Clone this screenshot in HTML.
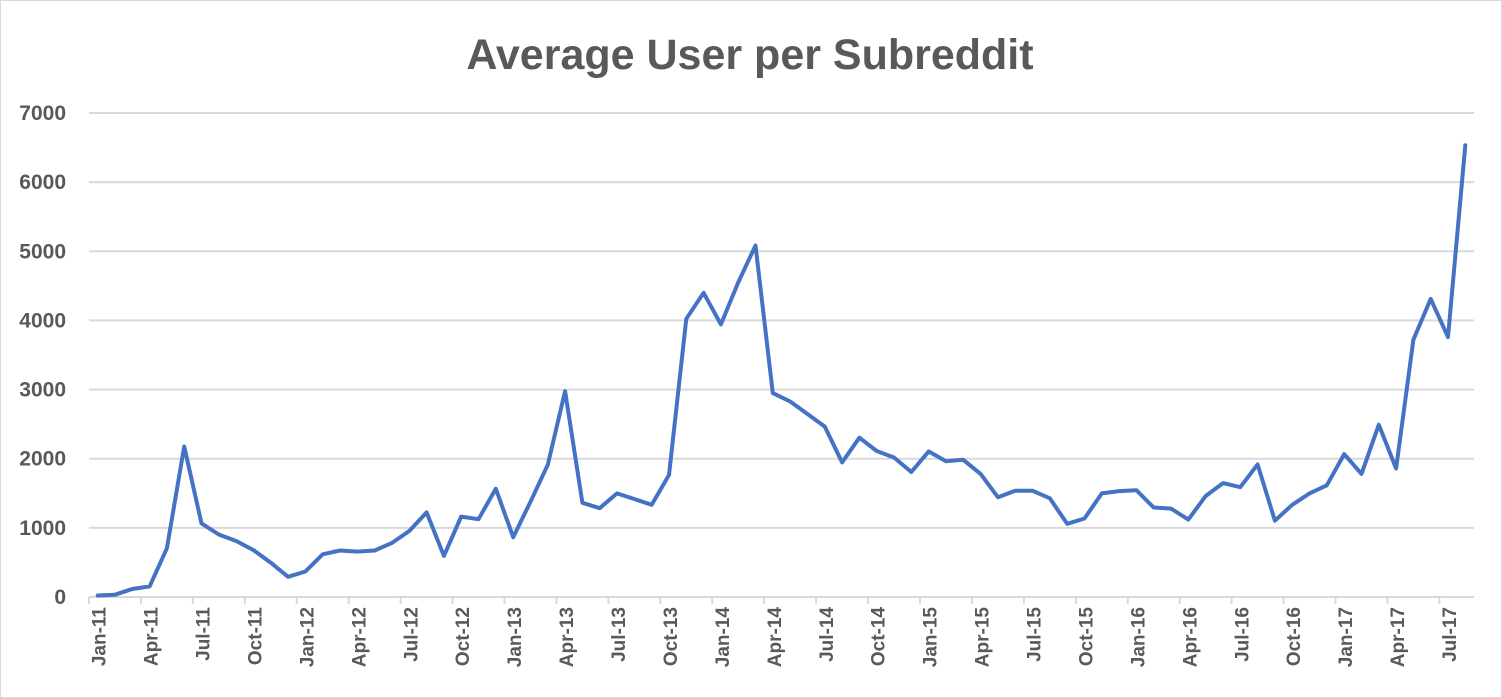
<!DOCTYPE html>
<html><head><meta charset="utf-8"><style>
html,body{margin:0;padding:0;background:#fff;}
svg{display:block;font-family:"Liberation Sans",sans-serif;}
</style></head><body>
<svg id="chart" width="1502" height="698">
<rect x="0.5" y="0.5" width="1501" height="697" fill="#fff" stroke="#d9d9d9"/>
<text x="750" y="69" text-anchor="middle" font-size="43" font-weight="bold" fill="#595959">Average User per Subreddit</text>
<g id="grid"></g><g id="yticks"></g><g id="xticks"></g><g id="series"></g>
</svg>
<script>
const monthNames=["Jan","Feb","Mar","Apr","May","Jun","Jul","Aug","Sep","Oct","Nov","Dec"];
const values=[22,33,116,154,705,2177,1064,904,810,678,496,292,369,617,672,656,672,783,954,1224,595,1163,1125,1566,865,1378,1913,2977,
1362,1284,1499,1417,1334,1764,4024,4399,3942,4548,5083,2949,2828,2646,2464,1946,2304,2111,2018,1808,2106,1962,1985,1781,1444,1538,1538,
1428,1058,1136,1499,1532,1544,1295,1279,1119,1461,1648,1588,1918,1103,1334,1499,1615,2067,1781,2492,1858,3721,4311,3760,6533];
const yTicks=[0,1000,2000,3000,4000,5000,6000,7000];
const categories=values.map((v,i)=>monthNames[i%12]+"-"+String(11+Math.floor(i/12)));
const NS="http://www.w3.org/2000/svg";
const L=89,R=1474,T=113,B=597,YMAX=7000;
const step=(R-L)/categories.length;
const xs=i=>L+step*(i+0.5);
const ys=v=>B-(v/YMAX)*(B-T);
function mk(tag,attrs,parent){const e=document.createElementNS(NS,tag);for(const k in attrs)e.setAttribute(k,attrs[k]);parent.appendChild(e);return e;}
const grid=document.getElementById('grid'),yt=document.getElementById('yticks'),xt=document.getElementById('xticks'),se=document.getElementById('series');
yTicks.forEach(t=>{
 const ln=mk('line',{x1:L,x2:R,y1:ys(t),y2:ys(t),stroke:'#d9d9d9','stroke-width':2},grid);
 
 
 const tx=mk('text',{x:66,y:ys(t)+7,'text-anchor':'end','font-size':21,'font-weight':'bold',fill:'#595959'},yt);
 tx.textContent=t;
 
 
});
for(let i=0;i<=categories.length;i+=3){
 const x=L+step*i;
 const tk=mk('line',{x1:x,x2:x,y1:B,y2:B+7,stroke:'#d9d9d9','stroke-width':2},xt);
 
 
}
categories.forEach((c,i)=>{
 if(i%3!==0)return;
 const x=xs(i)+8,y=607;
 const tx=mk('text',{x:x,y:y,'text-anchor':'end','font-size':19,'font-weight':'bold',fill:'#595959',transform:`rotate(-90 ${x} ${y})`},xt);
 tx.textContent=c;
 
 
});
const pts=values.map((v,i)=>xs(i).toFixed(1)+","+ys(v).toFixed(1)).join(" ");
const pl=mk('polyline',{points:pts,fill:'none',stroke:'#4472c4','stroke-width':4,'stroke-linejoin':'round','stroke-linecap':'round'},se);


</script>
</body></html>
